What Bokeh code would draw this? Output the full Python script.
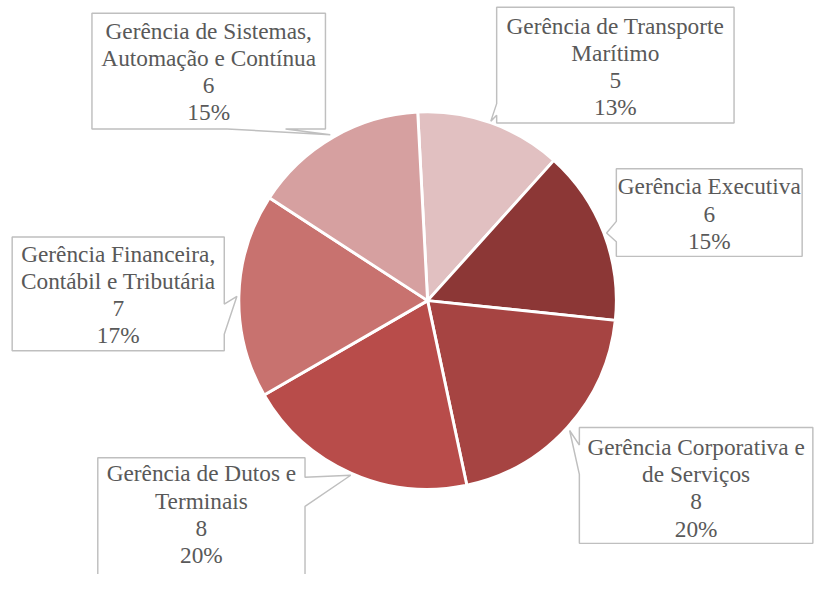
import math
from bokeh.plotting import figure
from bokeh.models import Range1d, ColumnDataSource
from bokeh.core.properties import value
from bokeh.embed import file_html
from bokeh.resources import INLINE

# ---- data (clockwise from top) ----
categories = [
    "Gerência de Transporte\nMarítimo",
    "Gerência Executiva",
    "Gerência Corporativa e\nde Serviços",
    "Gerência de Dutos e\nTerminais",
    "Gerência Financeira,\nContábil e Tributária",
    "Gerência de Sistemas,\nAutomação e Contínua",
]
counts = [5, 6, 8, 8, 7, 6]
pct_labels = ["13%", "15%", "20%", "20%", "17%", "15%"]
colors = ["#E1C0C1", "#8C3736", "#A64442", "#B84C4A", "#C8726F", "#D6A0A0"]

# ---- layout (reference pixel coordinates, y downward) ----
W, H = 815, 574
S = H / 590.0          # uniform scale so the 831x590 layout fits
CX, CY, R = 439.0, 308.5, 194.0
START_DEG = 93.0       # first slice starts slightly left of 12 o'clock

# label boxes: (left, top, right, bottom, side, base0, base1, tip_x, tip_y)
boxes = [
    (510, 7, 754, 126, "left", 106, 118, 504, 124),
    (633, 173, 824, 263, "left", 227, 248, 623, 239),
    (595, 439, 835, 558, "left", 457, 487, 585, 442),
    (100, 470, 313, 600, "right", 490, 520, 360, 488),
    (12, 243, 230, 360, "right", 312, 343, 243, 304),
    (94, 13, 334, 132, "bottom", 233, 293, 339, 138),
]
text_centers_y = [68, 219, 501, 528, 302, 73]


def callout(L, T, Rr, B, side, b0, b1, tx, ty):
    pts = [(L, T), (Rr, T)]
    if side == "right":
        pts += [(Rr, b0), (tx, ty), (Rr, b1)]
    pts += [(Rr, B)]
    if side == "bottom":
        pts += [(b1, B), (tx, ty), (b0, B)]
    pts += [(L, B)]
    if side == "left":
        pts += [(L, b1), (tx, ty), (L, b0)]
    xs = [q[0] for q in pts]
    ys = [-q[1] for q in pts]
    return xs, ys


total = sum(counts)
starts, ends = [], []
cum = 0
for c in counts:
    a0 = START_DEG - cum / total * 360.0
    cum += c
    a1 = START_DEG - cum / total * 360.0
    starts.append(math.radians(a0))
    ends.append(math.radians(a1))

src = ColumnDataSource(dict(start=starts, end=ends, color=colors))

p = figure(width=W, height=H,
           x_range=Range1d(0, W / S), y_range=Range1d(-590, 0),
           output_backend="svg", toolbar_location=None,
           x_axis_location=None, y_axis_location=None,
           min_border=0)
p.grid.visible = False
p.outline_line_color = None
p.background_fill_color = "white"
p.border_fill_color = "white"

p.wedge(x=CX, y=-CY, radius=R, start_angle="start", end_angle="end",
        direction="clock", fill_color="color", line_color="white",
        line_width=3 * S, source=src)

bx, by, tx_, ty_, texts = [], [], [], [], []
for i, b in enumerate(boxes):
    xs, ys = callout(*b)
    bx.append(xs)
    by.append(ys)
    L, T, Rr, B = b[:4]
    tx_.append((L + Rr) / 2)
    ty_.append(-text_centers_y[i])
    texts.append(f"{categories[i]}\n{counts[i]}\n{pct_labels[i]}")

p.patches(xs=bx, ys=by, fill_color="white", line_color="#BFBFBF", line_width=1.5 * S)
p.text(x=tx_, y=ty_, text=texts, text_font=value("Liberation Serif"),
       text_font_size=f"{24 * S:.1f}px", text_color="#595959", text_align="center",
       text_baseline="middle", text_line_height=1.045)

open("out.html", "w").write(file_html(p, INLINE))
